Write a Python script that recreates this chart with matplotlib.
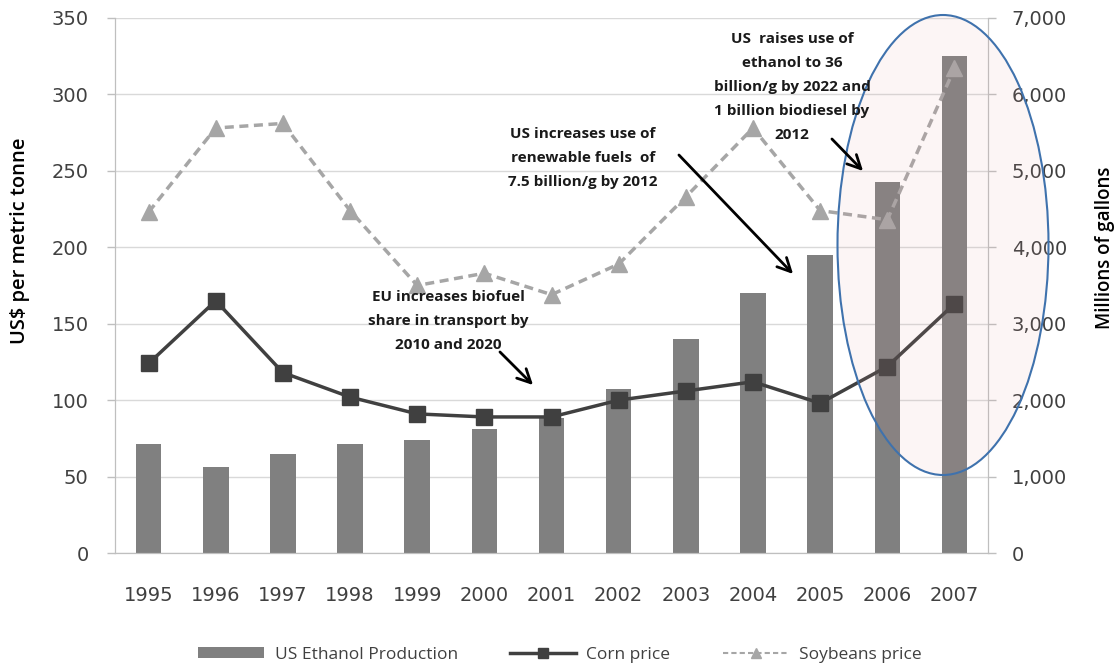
import matplotlib
matplotlib.use("Agg")
import matplotlib.pyplot as plt
from matplotlib.patches import Ellipse, FancyArrowPatch, Patch
from matplotlib.lines import Line2D
from matplotlib.ticker import FuncFormatter, MultipleLocator

years = [1995, 1996, 1997, 1998, 1999, 2000, 2001, 2002, 2003, 2004, 2005, 2006, 2007]
ethanol = [1420, 1120, 1300, 1420, 1480, 1620, 1760, 2140, 2800, 3400, 3900, 4860, 6500]
corn = [124, 165, 118, 102, 91, 89, 89, 100, 106, 112, 98, 122, 163]
soy = [223, 278, 281, 224, 175, 183, 169, 189, 233, 278, 224, 218, 317]

plt.rcParams['font.family'] = ['Open Sans', 'DejaVu Sans']

fig = plt.figure(figsize=(11.2, 6.65), dpi=100)
ax = fig.add_axes([0.1027, 0.1684, 0.7795, 0.8046])
ax2 = ax.twinx()

x = list(range(len(years)))

bar_color = '#808080'
corn_color = '#404040'
soy_color = '#a6a6a6'

ax2.bar(x, ethanol, width=0.38, color=bar_color, zorder=2)
ax2.set_ylim(0, 7000)
ax2.yaxis.set_major_locator(MultipleLocator(1000))
ax2.yaxis.set_major_formatter(FuncFormatter(lambda v, p: f"{int(v):,}"))

ax.set_zorder(ax2.get_zorder() + 1)
ax.patch.set_visible(False)

ax.plot(x, corn, color=corn_color, lw=2.5, marker='s', markersize=11, zorder=4)
ax.plot(x, soy, color=soy_color, lw=2.5, ls=(0, (2.6, 1.6)), marker='^', markersize=11, zorder=4)
ax.set_ylim(0, 350)
ax.set_xlim(-0.5, len(years) - 0.5)
ax.yaxis.set_major_locator(MultipleLocator(50))
ax.set_xticks(x)
ax.set_xticklabels([str(y) for y in years])

ax2.grid(axis='y', color='#d9d9d9', lw=1, zorder=0)
ax2.set_axisbelow(True)

for a in (ax, ax2):
    for s in a.spines.values():
        s.set_color('#bfbfbf')
    a.spines['top'].set_visible(False)
    a.tick_params(colors='#bfbfbf', labelcolor='#404040', length=6, width=1)
    for lbl in a.get_yticklabels() + a.get_xticklabels():
        lbl.set_family('DejaVu Sans')
        lbl.set_fontsize(14)
ax.tick_params(axis='y', pad=13)
ax2.tick_params(axis='y', pad=11)
ax.tick_params(axis='x', length=0, pad=24)

ax.set_ylabel('US$ per metric tonne', fontsize=14.5, fontweight='semibold', color='black')
ax.yaxis.set_label_coords(-0.097, 0.583)
ax2.set_ylabel('Millions of gallons', fontsize=13.5, fontweight='semibold', color='black')
ax2.yaxis.set_label_coords(1.122, 0.57)

ell = Ellipse((943 / 1120, (665 - 245) / 665), width=211 / 1120, height=460 / 665,
              transform=fig.transFigure, facecolor=(0.88, 0.6, 0.6, 0.09),
              edgecolor='#3f72ad', lw=1.5, zorder=10)
fig.patches.append(ell)

def px(xp, yp):
    return (xp / 1120, (665 - yp) / 665)

tkw = dict(fontsize=11, fontweight='bold', ha='center', va='center', linespacing=1.9,
           transform=fig.transFigure, zorder=12, color='#1a1a1a')
fig.text(*px(448, 321), 'EU increases biofuel\nshare in transport by\n2010 and 2020', **tkw)
fig.text(*px(583, 158), 'US increases use of\nrenewable fuels  of\n7.5 billion/g by 2012', **tkw)
fig.text(*px(792, 87), 'US  raises use of\nethanol to 36\nbillion/g by 2022 and\n1 billion biodiesel by\n2012', **tkw)

for (x0, y0, x1, y1) in [(498, 350, 535, 387), (677, 153, 795, 276), (830, 137, 865, 173)]:
    fig.patches.append(FancyArrowPatch(px(x0, y0), px(x1, y1), transform=fig.transFigure,
                                       arrowstyle='->,head_length=0.8,head_width=0.4',
                                       color='black', lw=2, mutation_scale=12, zorder=12))

handles = [Patch(facecolor=bar_color),
           Line2D([], [], color=corn_color, lw=2.5, marker='s', markersize=7),
           Line2D([], [], color=soy_color, lw=1.5, ls=(0, (2.5, 1.5)), marker='^', markersize=7)]
labels = ['US Ethanol Production', 'Corn price', 'Soybeans price']
fig.legend(handles, labels, loc='center', ncol=3, frameon=False,
           bbox_to_anchor=(0.5, (665 - 655) / 665), fontsize=12.5, handlelength=3.8,
           handleheight=0.6, columnspacing=3.0, handletextpad=0.6, labelcolor='#404040')

fig.savefig('out.png', dpi=100)
